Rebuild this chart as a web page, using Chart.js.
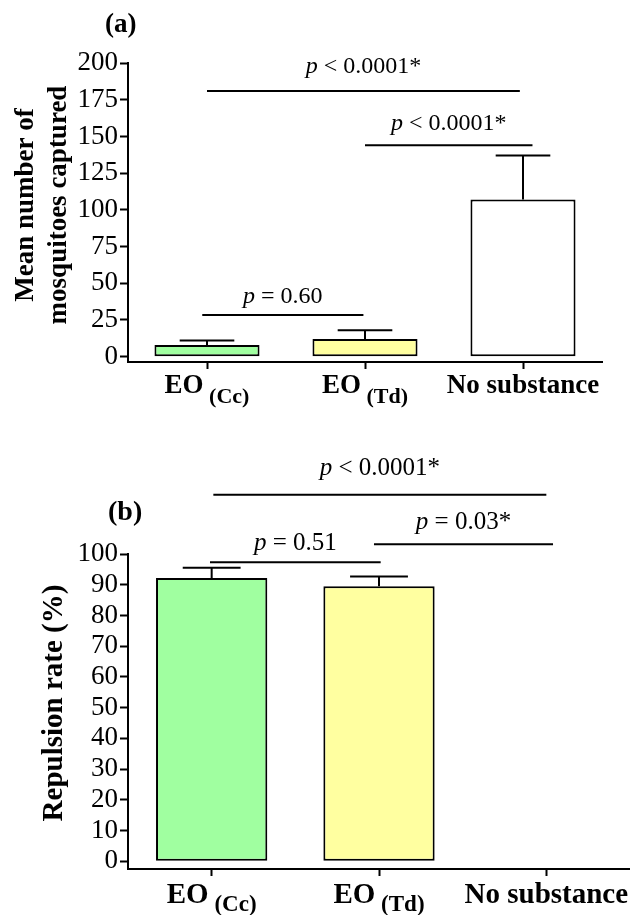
<!DOCTYPE html>
<html>
<head>
<meta charset="utf-8">
<script src="https://cdn.jsdelivr.net/npm/chart.js@4"></script>
<style>
  html, body { margin: 0; padding: 0; background: #fff; }
  body { width: 630px; height: 915px; position: relative; overflow: hidden; }
  canvas { position: absolute; left: 0; }
  #ca { top: 0; }
  #cb { top: 450px; }
</style>
</head>
<body>
<canvas id="ca" width="630" height="450"></canvas>
<canvas id="cb" width="630" height="465"></canvas>
<script>
// ---------- data ----------
const categories = ['EO (Cc)', 'EO (Td)', 'No substance'];
const catMain = ['EO', 'EO', 'No substance'];
const catSub = ['(Cc)', '(Td)', ''];

// Panel (a): mean number of mosquitoes captured
const meanA = [8, 12, 107];
const errA = [3, 6, 30];
const yTicksA = [0, 25, 50, 75, 100, 125, 150, 175, 200];
// significance brackets (category index from/to, y value, text)
const brFromA = [0, 1.0, -0.03];
const brToA = [1.98, 2.06, 0.99];
const brValA = [181, 144, 28.4];
const brTextA = ['< 0.0001*', '< 0.0001*', '= 0.60'];

// Panel (b): repulsion rate (%)
const meanB = [92.2, 89.5, 0];
const errB = [3.3, 3.2, 0];
const yTicksB = [0, 10, 20, 30, 40, 50, 60, 70, 80, 90, 100];
const brFromB = [0.01, -0.01, 0.97];
const brToB = [2.0, 1.01, 2.04];
const brValB = [119.3, 97.3, 103.2];
const brTextB = ['< 0.0001*', '= 0.51', '= 0.03*'];

const barColors = ['#a0ffa0', '#ffffa0', '#ffffff'];

// ---------- styling ----------
const FONT = "'Liberation Serif', 'Times New Roman', serif";

const annotPlugin = {
  id: 'annot',
  afterDraw(chart, args, o) {
    const ctx = chart.ctx;
    const xs = chart.scales.x, ys = chart.scales.y;
    const ca = chart.chartArea;
    const meta = chart.getDatasetMeta(0);
    ctx.save();
    ctx.strokeStyle = '#000';
    ctx.fillStyle = '#000';
    ctx.lineWidth = 2;
    ctx.lineCap = 'butt';
    // error bars
    o.means.forEach((m, i) => {
      const e = o.errs[i];
      if (!e) return;
      const bar = meta.data[i];
      const top = ys.getPixelForValue(m + e);
      const hw = bar.width * 0.26;
      ctx.beginPath();
      ctx.moveTo(bar.x, bar.y);
      ctx.lineTo(bar.x, top);
      ctx.moveTo(bar.x - hw, top);
      ctx.lineTo(bar.x + hw, top);
      ctx.stroke();
    });
    // significance brackets
    o.brFrom.forEach((f, i) => {
      const x1 = xs.getPixelForValue(f);
      const x2 = xs.getPixelForValue(o.brTo[i]);
      const yy = ys.getPixelForValue(o.brVal[i]);
      ctx.beginPath();
      ctx.moveTo(x1, yy);
      ctx.lineTo(x2, yy);
      ctx.stroke();
      const fs = o.brFont;
      ctx.font = 'italic ' + fs + 'px ' + FONT;
      const wp = ctx.measureText('p').width;
      ctx.font = fs + 'px ' + FONT;
      const rest = ' ' + o.brText[i];
      const wr = ctx.measureText(rest).width;
      const start = (x1 + x2) / 2 - (wp + wr) / 2;
      const base = yy - o.brGap[i];
      ctx.textBaseline = 'alphabetic';
      ctx.textAlign = 'left';
      ctx.font = 'italic ' + fs + 'px ' + FONT;
      ctx.fillText('p', start, base);
      ctx.font = fs + 'px ' + FONT;
      ctx.fillText(rest, start + wp, base);
    });
    // category labels with subscripts
    catMain.forEach((t, i) => {
      const px = xs.getPixelForValue(i);
      ctx.font = 'bold ' + o.catFont + 'px ' + FONT;
      const wm = ctx.measureText(t).width;
      let ws = 0, wsp = 0;
      if (catSub[i]) {
        ctx.font = 'bold ' + o.subFont + 'px ' + FONT;
        wsp = ctx.measureText(' ').width;
        ws = ctx.measureText(catSub[i]).width;
      }
      const start = px - (wm + wsp + ws) / 2;
      const base = ca.bottom + o.catGap;
      ctx.textAlign = 'left';
      ctx.font = 'bold ' + o.catFont + 'px ' + FONT;
      ctx.fillText(t, start, base);
      if (catSub[i]) {
        ctx.font = 'bold ' + o.subFont + 'px ' + FONT;
        ctx.fillText(catSub[i], start + wm + wsp, base + o.subDrop);
      }
    });
    // y-axis title (rotated)
    ctx.font = 'bold ' + o.titleFont + 'px ' + FONT;
    ctx.textAlign = 'center';
    ctx.textBaseline = 'alphabetic';
    o.yTitle.forEach((line, k) => {
      ctx.save();
      ctx.translate(o.yTitleX[k], o.yTitleY);
      ctx.rotate(-Math.PI / 2);
      ctx.fillText(line, 0, 0);
      ctx.restore();
    });
    // panel label
    ctx.font = 'bold ' + o.panelFont + 'px ' + FONT;
    ctx.textAlign = 'left';
    ctx.fillText(o.panel, ca.left + o.panelDx, ca.top + o.panelDy);
    ctx.restore();
  }
};

function makeChart(id, means, errs, ticks, yMin, yMax, pad, yTickFont, plug) {
  return new Chart(document.getElementById(id), {
    type: 'bar',
    data: {
      labels: categories,
      datasets: [{
        data: means,
        backgroundColor: barColors,
        borderColor: '#000',
        borderWidth: (c) => (c.raw ? 2 : 0),
        borderSkipped: false,
        categoryPercentage: 1,
        barPercentage: 0.665
      }]
    },
    options: {
      responsive: false,
      animation: false,
      events: [],
      layout: { padding: pad },
      plugins: { legend: { display: false }, tooltip: { enabled: false }, annot: plug },
      scales: {
        x: {
          type: 'category',
          offset: true,
          grid: { offset: false, drawOnChartArea: false, drawTicks: true, tickLength: 7, tickWidth: 2, tickColor: '#000' },
          border: { display: true, color: '#000', width: 2 },
          ticks: { display: false },
          afterFit: (s) => { s.height = pad.xh; }
        },
        y: {
          min: yMin, max: yMax,
          afterBuildTicks: (s) => { s.ticks = ticks.map(v => ({ value: v })); },
          grid: { drawOnChartArea: false, drawTicks: true, tickLength: 8, tickWidth: 2, tickColor: '#000' },
          border: { display: true, color: '#000', width: 2 },
          ticks: { color: '#000', padding: 2, autoSkip: false, font: { family: FONT, size: yTickFont }, callback: (v) => String(v) },
          afterFit: (s) => { s.width = 128; }
        }
      }
    },
    plugins: [annotPlugin]
  });
}

makeChart('ca', meanA, errA, yTicksA, -3.6, 200,
  { top: 63, right: 28, bottom: 0, left: 0, xh: 88 }, 27,
  { means: meanA, errs: errA, brFrom: brFromA, brTo: brToA, brVal: brValA, brText: brTextA,
    brGap: [18, 15, 12], brFont: 24, catFont: 27, subFont: 22, catGap: 31, subDrop: 10,
    yTitle: ['Mean number of', 'mosquitoes captured'], yTitleX: [33, 66], yTitleY: 205, titleFont: 27,
    panel: '(a)', panelFont: 27, panelDx: -23, panelDy: -31 });

makeChart('cb', meanB, errB, yTicksB, -2.5, 100,
  { top: 104, right: 0, bottom: 0, left: 0, xh: 46 }, 27,
  { means: meanB, errs: errB, brFrom: brFromB, brTo: brToB, brVal: brValB, brText: brTextB,
    brGap: [20, 12, 15], brFont: 25, catFont: 29, subFont: 23, catGap: 34, subDrop: 8,
    yTitle: ['Repulsion rate (%)'], yTitleX: [62], yTitleY: 253, titleFont: 29,
    panel: '(b)', panelFont: 28, panelDx: -20, panelDy: -34 });
</script>
</body>
</html>
